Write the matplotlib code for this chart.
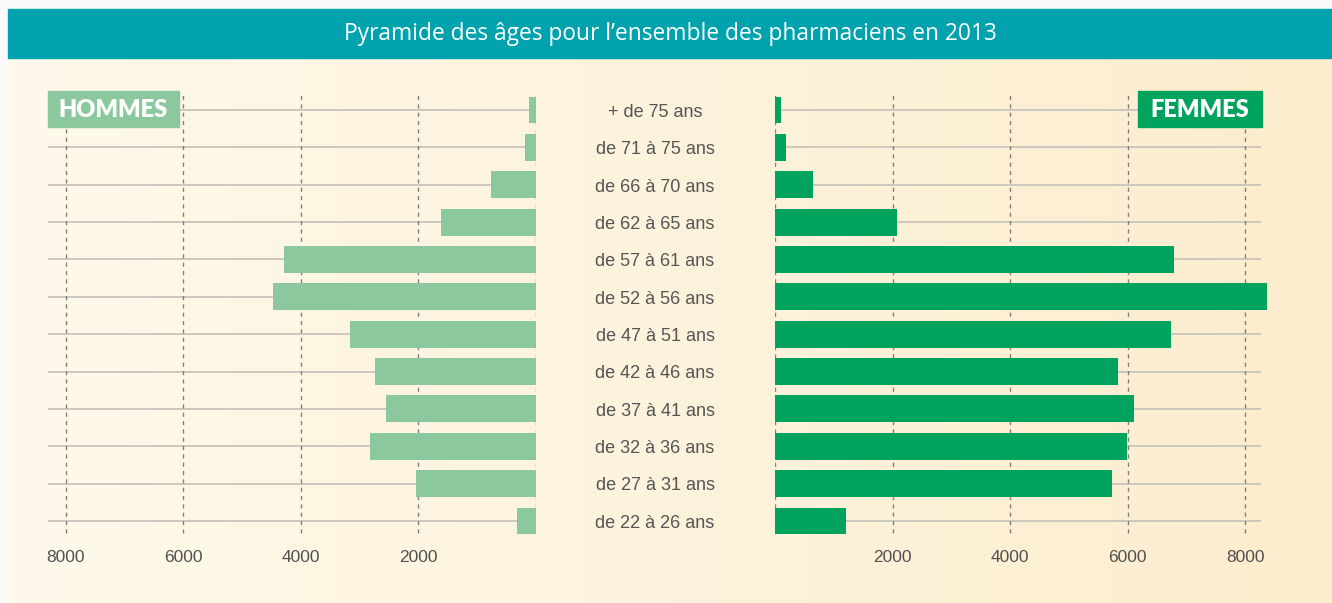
import matplotlib
matplotlib.use("Agg")
import matplotlib.pyplot as plt
import numpy as np
from matplotlib import transforms
from matplotlib.patches import Rectangle

# age groups, bottom to top
tranches = ["de 22 à 26 ans", "de 27 à 31 ans", "de 32 à 36 ans", "de 37 à 41 ans",
            "de 42 à 46 ans", "de 47 à 51 ans", "de 52 à 56 ans", "de 57 à 61 ans",
            "de 62 à 65 ans", "de 66 à 70 ans", "de 71 à 75 ans", "+ de 75 ans"]
hommes = [325, 2040, 2820, 2550, 2740, 3165, 4470, 4285, 1615, 765, 190, 120]
femmes = [1210, 5735, 5990, 6110, 5840, 6740, 8360, 6790, 2075, 645, 190, 100]
ticks = [2000, 4000, 6000, 8000]

W, H = 1332, 603
fig = plt.figure(figsize=(W / 100, H / 100), dpi=100)
fig.patch.set_facecolor("#fafafa")

def fx(px):
    return px / W

def fy(py):
    return 1 - py / H

# cream gradient background
bg = fig.add_axes([fx(8), 0, 1 - fx(8), fy(9)], zorder=-10)
grad = np.linspace(0, 1, 256)
c0 = np.array([254, 249, 234]) / 255
c1 = np.array([252, 237, 206]) / 255
img = c0[None, :] * (1 - grad[:, None]) + c1[None, :] * grad[:, None]
bg.imshow(img[None, :, :], aspect="auto", extent=[0, 1, 0, 1])
bg.axis("off")

# title bar
fig.patches.append(Rectangle((fx(8), fy(58)), 1 - fx(8), fy(9) - fy(58),
                             transform=fig.transFigure, color="#00a3ad", zorder=1))
fig.text(fx(670), fy(34), "Pyramide des âges pour l’ensemble des pharmaciens en 2013",
         color="white", fontsize=16.4, family="Open Sans", ha="center", va="center", zorder=2)

y = np.arange(len(tranches))
px_per_k = 58.8
grid_col = "#c9c5bd"
dash_col = "#808080"

# left: hommes
ax_l = fig.add_axes([fx(48), fy(540), fx(488), fy(91) - fy(540)])
xmax_l = 488 / px_per_k * 1000
ax_l.set_facecolor("none")
ax_l.set_xlim(xmax_l, 0)
ax_l.set_ylim(-0.51, 11.51)
ax_l.axis("off")
ax_l.hlines(y, 0, xmax_l, color=grid_col, lw=1.3, zorder=1)
ax_l.vlines([0] + ticks, -0.32, 11.4, color=dash_col, lw=1, linestyles=(0, (3, 3)), zorder=1)
ax_l.barh(y, hommes, height=0.72, color="#8cc89e", zorder=2)

# right: femmes
ax_r = fig.add_axes([fx(775), fy(540), fx(500), fy(91) - fy(540)])
xmax_r = 500 / px_per_k * 1000
ax_r.set_facecolor("none")
ax_r.set_xlim(0, xmax_r)
ax_r.set_ylim(-0.51, 11.51)
ax_r.axis("off")
ax_r.hlines(y, 0, 486 / px_per_k * 1000, color=grid_col, lw=1.3, zorder=1)
ax_r.vlines([0] + ticks, -0.32, 11.4, color=dash_col, lw=1, linestyles=(0, (3, 3)), zorder=1)
ax_r.barh(y, femmes, height=0.72, color="#00a35e", zorder=2)

# center labels
tr = transforms.blended_transform_factory(fig.transFigure, ax_l.transData)
for yi, lab in zip(y, tranches):
    fig.text(fx(655), yi - 0.06, lab, transform=tr, ha="center", va="center",
             fontsize=13, color="#555555", family="Liberation Sans")

# tick labels
trl = transforms.blended_transform_factory(ax_l.transData, fig.transFigure)
trr = transforms.blended_transform_factory(ax_r.transData, fig.transFigure)
for t in ticks:
    for trans in (trl, trr):
        fig.text(t, fy(558), str(t), transform=trans, ha="center", va="center",
                 fontsize=12.5, color="#505050", family="Liberation Sans")

# legend boxes
for x0, x1, lab, col in [(48, 179, "HOMMES", "#8cc89e"), (1138, 1262, "FEMMES", "#00a35e")]:
    fig.patches.append(Rectangle((fx(x0), fy(127)), fx(x1 - x0), fy(91) - fy(127),
                                 transform=fig.transFigure, color=col, zorder=5))
    fig.text(fx((x0 + x1) / 2), fy(110), lab, color="white", fontsize=17,
             fontweight="heavy", family="Lato", ha="center", va="center", zorder=6)

fig.savefig("out.png", dpi=100)
